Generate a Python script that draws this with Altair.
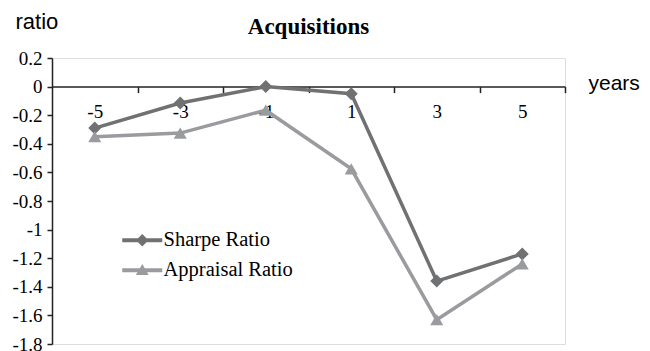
import altair as alt
import pandas as pd

# ---- data ----
years = ["-5", "-3", "-1", "1", "3", "5"]
sharpe = [-0.29, -0.115, 0.0, -0.05, -1.36, -1.17]
appraisal = [-0.35, -0.325, -0.165, -0.575, -1.63, -1.24]
series_names = ["Sharpe Ratio", "Appraisal Ratio"]
series_colors = ["#707173", "#9a9b9e"]
point_shapes = ["diamond", "triangle-up"]
y_ticks = [0.2, 0, -0.2, -0.4, -0.6, -0.8, -1, -1.2, -1.4, -1.6, -1.8]

rows = []
for name, vals in zip(series_names, [sharpe, appraisal]):
    for yr, v in zip(years, vals):
        rows.append({"year": yr, "value": v, "series": name})
df = pd.DataFrame(rows)

W, H = 513, 286
step = W / len(years)
y_min, y_max = -1.8, 0.2
zero_from_bottom = H * (0 - y_min) / (y_max - y_min)

SERIF = "Liberation Serif"
SANS = "Liberation Sans"

# legend symbol paths: line segment + marker
legend_paths = [
    "M-2,-0.2L2,-0.2L2,0.2L-2,0.2Z M0,-0.62L0.62,0L0,0.62L-0.62,0Z",
    "M-2,-0.2L2,-0.2L2,0.2L-2,0.2Z M0,-0.62L0.64,0.48L-0.64,0.48Z",
]

legend = alt.Legend(
    title=None,
    orient="none",
    legendX=80,
    legendY=172,
    direction="vertical",
    padding=0,
    rowPadding=9,
    symbolSize=400,
    symbolStrokeWidth=0,
    symbolOpacity=1,
    labelFont=SERIF,
    labelFontSize=20.5,
    labelColor="black",
    labelOffset=11,
)

x_enc = alt.X(
    "year:O",
    sort=years,
    scale=alt.Scale(type="point", padding=0.5),
    axis=alt.Axis(
        orient="bottom",
        offset=-zero_from_bottom,
        tickOffset=step / 2,
        labelOffset=-step / 2,
        labelAngle=0,
        labelFont=SERIF,
        labelFontSize=19,
        labelColor="black",
        labelPadding=10,
        tickSize=6,
        tickColor="#222222",
        tickWidth=1.5,
        domainColor="#222222",
        domainWidth=1.5,
        grid=False,
        title="years",
        titleFont=SANS,
        titleFontSize=21,
        titleFontWeight="normal",
        titleColor="black",
        titleAlign="left",
        titleBaseline="alphabetic",
        titleX=536,
        titleY=3,
    ),
)

y_enc = alt.Y(
    "value:Q",
    scale=alt.Scale(domain=[y_min, y_max], nice=False, zero=False),
    axis=alt.Axis(
        values=y_ticks,
        labelExpr="toString(round(datum.value*10)/10)",
        labelFont=SERIF,
        labelFontSize=19,
        labelColor="black",
        labelPadding=5,
        tickSize=5,
        tickColor="#222222",
        tickWidth=1.5,
        domainColor="#222222",
        domainWidth=1.5,
        grid=False,
        title="ratio",
        titleFont=SANS,
        titleFontSize=22,
        titleFontWeight="normal",
        titleColor="black",
        titleAngle=0,
        titleAlign="left",
        titleBaseline="alphabetic",
        titleX=-37,
        titleY=-30,
    ),
)

base = alt.Chart(df)

layers = []
for name, col, shp in zip(series_names, series_colors, point_shapes):
    sub = base.transform_filter(alt.datum.series == name)
    layers.append(sub.mark_line(strokeWidth=3.5, color=col).encode(x=x_enc, y=y_enc))
    layers.append(
        sub.mark_point(filled=True, size=170, opacity=1, shape=shp, color=col).encode(
            x=x_enc, y=y_enc
        )
    )

legend_layer = base.mark_point(filled=True, opacity=0).encode(
    x=x_enc,
    y=y_enc,
    color=alt.Color(
        "series:N",
        scale=alt.Scale(domain=series_names, range=series_colors),
        sort=series_names,
        legend=legend,
    ),
    shape=alt.Shape(
        "series:N",
        scale=alt.Scale(domain=series_names, range=legend_paths),
        sort=series_names,
        legend=legend,
    ),
)
layers.append(legend_layer)

chart = (
    alt.layer(*layers)
    .properties(
        width=W,
        height=H,
        title=alt.TitleParams(
            "Acquisitions",
            font=SERIF,
            fontSize=23,
            fontWeight="bold",
            color="black",
            anchor="middle",
            baseline="alphabetic",
            offset=-47,
        ),
        padding={"left": 44, "top": 50, "right": 77, "bottom": 8},
        autosize=alt.AutoSizeParams(type="none"),
    )
    .configure_view(stroke=None)
    .configure(background="white")
)

chart.save("out.html", embed_options={"renderer": "svg", "actions": False})
